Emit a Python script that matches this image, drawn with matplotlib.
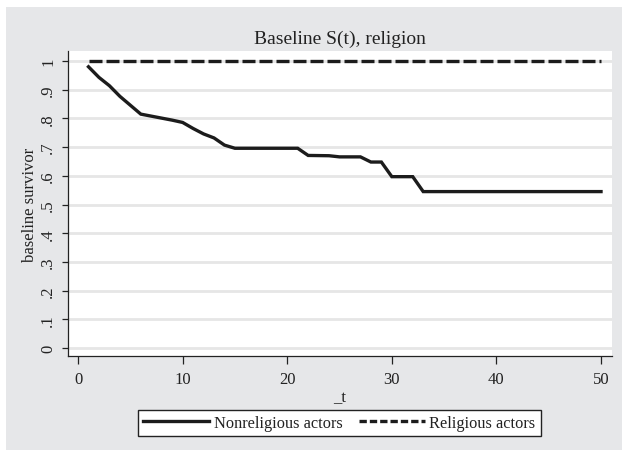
import matplotlib
matplotlib.use("Agg")
import matplotlib.pyplot as plt
from matplotlib.patches import Rectangle
from matplotlib.lines import Line2D

# Data
t_nonrel = [1, 2, 3, 4, 6, 7, 8, 9, 10, 11, 12, 13, 14, 15, 21, 22, 24, 25, 27, 28, 29, 30, 32, 33, 50]
s_nonrel = [0.980, 0.943, 0.914, 0.877, 0.815, 0.808, 0.801, 0.794, 0.786, 0.765, 0.746, 0.732,
            0.707, 0.696, 0.696, 0.671, 0.670, 0.666, 0.666, 0.648, 0.648, 0.597, 0.597, 0.545, 0.545]
t_rel = [1, 50]
s_rel = [1.0, 1.0]

yticks = [0, 0.1, 0.2, 0.3, 0.4, 0.5, 0.6, 0.7, 0.8, 0.9, 1.0]
ytick_labels = ["0", ".1", ".2", ".3", ".4", ".5", ".6", ".7", ".8", ".9", "1"]
xticks = [0, 10, 20, 30, 40, 50]

plt.rcParams['font.family'] = ['Liberation Serif', 'DejaVu Serif']

W, H = 622, 456
fig = plt.figure(figsize=(W / 100, H / 100), dpi=100, facecolor='white')
bg = '#e6e7e9'
fig.patches.append(Rectangle((6 / W, 1 - 451 / H), (W - 6) / W, (451 - 8) / H,
                             transform=fig.transFigure, facecolor=bg, edgecolor='none', zorder=-5))

ax = fig.add_axes([68 / W, 1 - 357 / H, (612 - 68) / W, (357 - 52) / H])
ax.set_zorder(1)
ax.set_facecolor('white')

lc = '#1c1c1c'
ax.plot(t_nonrel, s_nonrel, color=lc, lw=2.4, solid_joinstyle='miter', label='Nonreligious actors')
ax.plot(t_rel, s_rel, color=lc, lw=2.4, dashes=(3.9, 1.2), label='Religious actors')

ax.set_xlim(-0.96, 51.05)
ax.set_ylim(-0.028, 1.035)

ax.set_yticks(yticks)
ax.set_yticklabels(ytick_labels, rotation=90, va='center')
ax.set_xticks(xticks)
ax.grid(axis='y', color='#e6e6e6', lw=2.0)
ax.set_axisbelow(True)

for s in ['top', 'right']:
    ax.spines[s].set_visible(False)
for s in ['left', 'bottom']:
    ax.spines[s].set_color('#222222')
    ax.spines[s].set_linewidth(0.9)

ax.tick_params(axis='y', length=4.5, width=0.9, pad=4, labelsize=12, colors='#222222')
ax.tick_params(axis='x', length=6, width=0.9, pad=5, labelsize=12, colors='#222222')

ax.set_xlabel('_t', fontsize=12, labelpad=1, color='#222222')
ax.set_ylabel('baseline survivor', fontsize=12, labelpad=1.5, color='#222222')
ax.set_title('Baseline S(t), religion', fontsize=14, pad=6, color='#222222')

handles = [Line2D([], [], color=lc, lw=2.4),
           Line2D([], [], color=lc, lw=2.4, dashes=(2.2, 0.9))]
leg = fig.legend(handles, ['Nonreligious actors', 'Religious actors'],
                 loc='center', bbox_to_anchor=(339.5 / W, 1 - 424 / H), ncol=2,
                 fontsize=11.8, frameon=True, fancybox=False, handlelength=4.0,
                 handletextpad=0.3, columnspacing=1.0, borderpad=0.3, borderaxespad=0)
leg.get_frame().set_edgecolor('#222222')
leg.get_frame().set_linewidth(1.0)
leg.get_frame().set_facecolor('white')
leg.get_frame().set_alpha(1)
for txt in leg.get_texts():
    txt.set_color('#222222')

fig.savefig('out.png', dpi=100, facecolor='white')
